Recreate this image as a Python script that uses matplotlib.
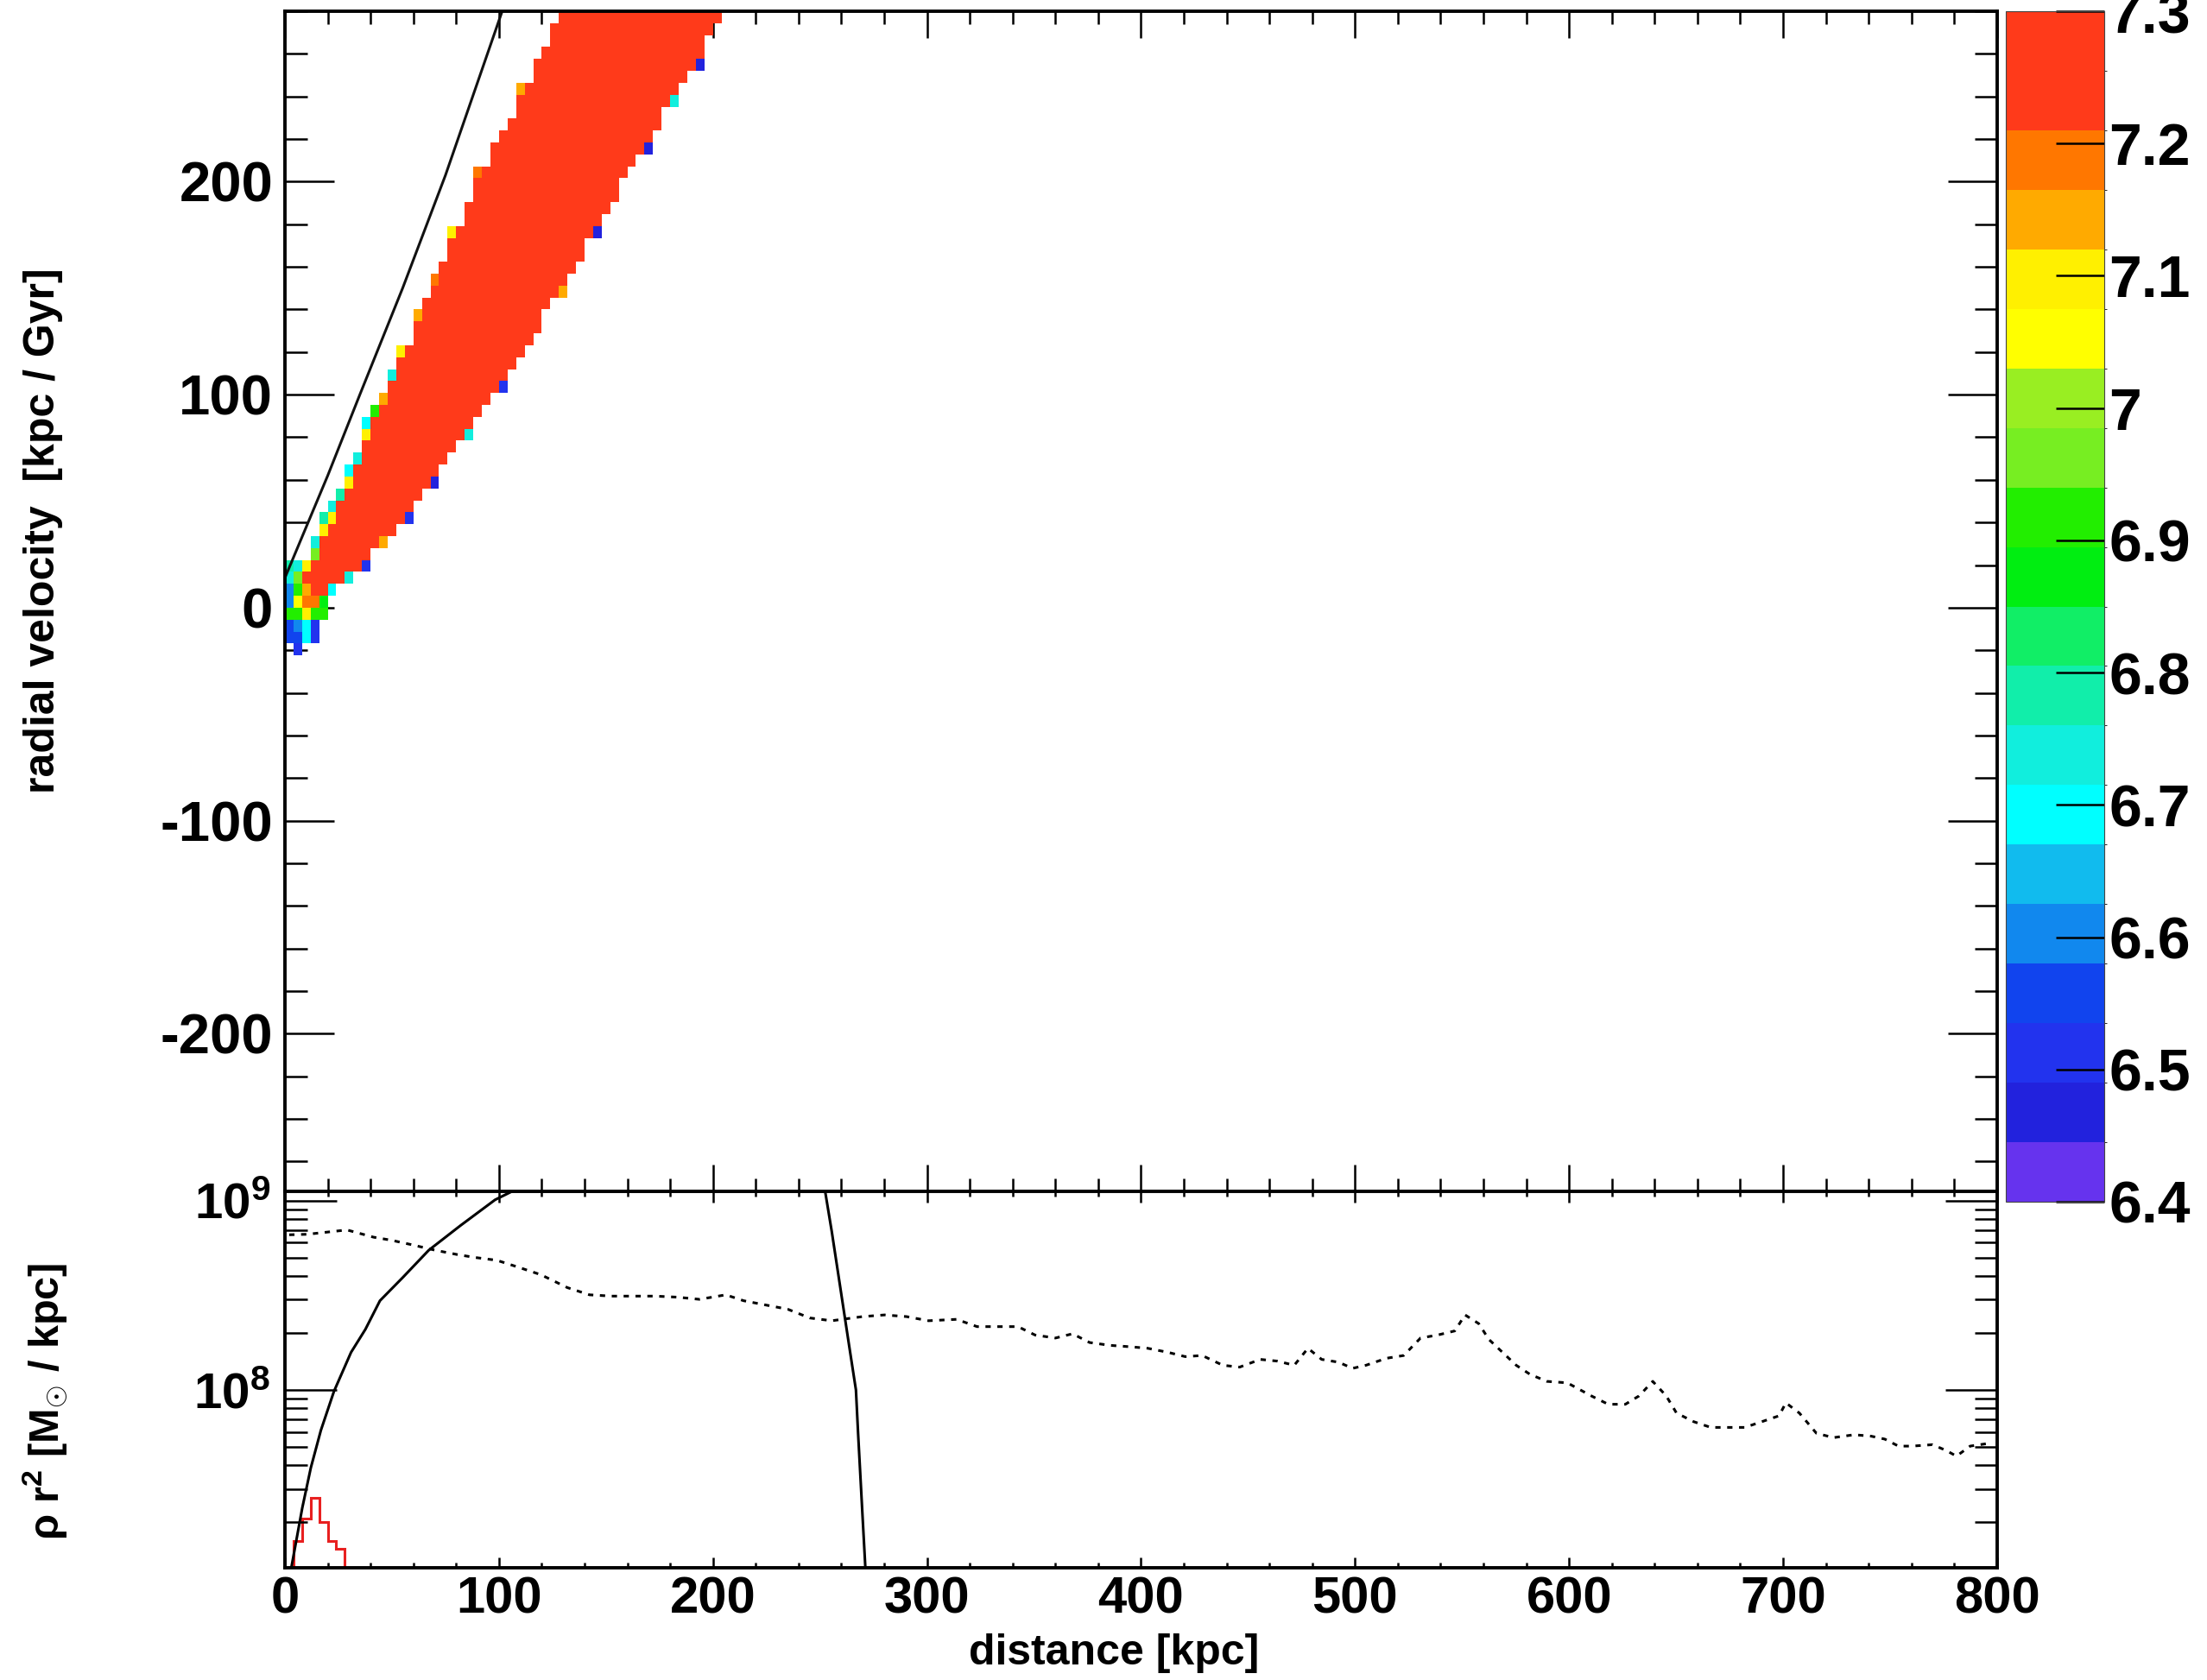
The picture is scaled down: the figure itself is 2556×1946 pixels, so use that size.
import numpy as np
import matplotlib
matplotlib.use("Agg")
import matplotlib.pyplot as plt
from matplotlib.colors import ListedColormap, BoundaryNorm
from matplotlib.cm import ScalarMappable
from matplotlib.ticker import MultipleLocator, FixedLocator, LogLocator, NullFormatter, FuncFormatter

plt.rcParams['font.family'] = ['Liberation Sans', 'DejaVu Sans']
plt.rcParams['font.weight'] = 'bold'
plt.rcParams['axes.unicode_minus'] = False
plt.rcParams['mathtext.fontset'] = 'custom'
plt.rcParams['mathtext.rm'] = 'Liberation Sans:bold'
plt.rcParams['mathtext.bf'] = 'Liberation Sans:bold'
plt.rcParams['mathtext.it'] = 'Liberation Sans:bold'

# ---------------- phase-space histogram: log10(mass) per (r, v_r) cell ----------------
x_edges = np.arange(0, 804, 4)            # kpc
v_edges = np.linspace(-280, 280, 101)     # kpc / Gyr
bulk_level = 7.8                          # dense cells, above palette top

band_x = list(range(14, 203, 4))
band_lo = [6.0, 7.7, 9.3, 11.0, 14.4, 17.8, 21.2, 25.8, 30.8, 35.8, 40.9, 45.9,
           51.0, 56.0, 61.0, 66.3, 71.6, 76.9, 82.2, 87.4, 92.7, 98.0, 104.2, 111.0,
           117.8, 124.5, 131.3, 138.1, 144.8, 151.6, 158.4, 165.2, 171.9, 178.7, 185.5, 192.2,
           199.0, 205.8, 212.6, 219.4, 226.2, 233.0, 239.8, 246.6, 253.4, 260.2, 267.0, 273.8]
band_hi = [23.3, 31.6, 40.0, 48.4, 56.8, 66.2, 76.6, 87.0, 97.4, 107.0, 116.3, 125.6,
           134.9, 144.2, 153.5, 162.8, 172.1, 181.4, 190.7, 200.0, 208.0, 216.0, 224.0, 232.0,
           240.0, 248.0, 256.0, 264.0, 272.0, 280.0] + [280.0] * 18
nan = np.nan
edge_above = [6.95, 7.1, 7.1, 6.8, 7.1, 6.75, 7.1, 6.9, 7.15, 6.75, 7.1, nan,
              7.15, nan, 7.2, nan, 7.1, nan, nan, 7.2, nan, nan, nan, nan,
              7.15, nan, nan, nan, nan] + [nan] * 19
edge_above2 = [6.75, 6.8, 6.72, nan, 6.7, nan, 6.7] + [nan] * 41
edge_below = [6.85, 6.75, 6.7, nan, 6.75, nan, 6.5, nan, 7.15, nan, nan, 6.5,
              nan, nan, 6.45, nan, nan, nan, 6.75, nan, nan, nan, 6.5, nan,
              nan, nan, nan, nan, nan, 7.15, nan, nan, nan, 6.45, nan, nan,
              nan, nan, nan, 6.45, nan, nan, 6.75, nan, nan, 6.45, nan, nan]
# cells around the origin: (r, v_r, log10 mass)
core_cells = [(2, -14.0, 6.55), (2, -8.4, 6.55), (2, -2.8, 6.9), (2, 2.8, 6.6),
              (2, 8.4, 6.62), (2, 14.0, 6.75), (2, 19.6, 6.8),
              (6, -19.6, 6.5), (6, -14.0, 6.55), (6, -8.4, 6.6), (6, -2.8, 6.9),
              (6, 2.8, 7.05), (6, 8.4, 6.9), (6, 14.0, 6.95), (6, 19.6, 6.75),
              (10, -14.0, 6.7), (10, -8.4, 6.7), (10, -2.8, 7.1), (10, 2.8, 7.2),
              (10, 8.4, 7.15), (10, 14.0, 7.5), (10, 19.6, 7.1),
              (14, -14.0, 6.5), (14, -8.4, 6.5), (14, -2.8, 6.9), (14, 2.8, 7.2),
              (18, -2.8, 6.9), (18, 2.8, 6.85)]

# escape-velocity style reference curve
curve_r = [0, 10, 20, 35, 55, 75, 101.5]
curve_v = [14, 38, 62, 100, 150, 203, 280]

# ---------------- radial profiles rho r^2 ----------------
model_r = [2, 8.1, 12.1, 16.8, 22.9, 30.9, 37.6, 44.4, 55.1, 67.2, 82.0, 98.2, 106.2,
           130, 170, 210, 245, 252.4, 255.5, 259.6, 263.7, 266.8, 267.8, 269.9, 271.5]
model_val = [1.0e7, 2.38e7, 3.88e7, 6.12e7, 9.82e7, 1.58e8, 2.09e8, 2.96e8, 3.93e8,
             5.47e8, 7.38e8, 1.01e9, 1.12e9, 1.5e9, 1.8e9, 1.8e9, 1.5e9, 1.13e9,
             6.87e8, 3.41e8, 1.69e8, 1.0e8, 5.92e7, 2.14e7, 1.0e7]

sim_r = [2, 10.5, 29, 41.4, 49.6, 58.9, 70.2, 80.5, 88.7, 99, 109.3, 119.6, 132, 142.3,
         152.6, 162.9, 173.1, 183.4, 193.7, 206, 214.3, 224.6, 234.9, 245.2, 255.5, 269.9,
         280.2, 290.4, 300.7, 313.8, 323.4, 332.9, 342.5, 350.5, 360, 368, 376, 385.5,
         395.1, 403.1, 412.6, 420.6, 428.6, 438.2, 446.1, 455.7, 463.7, 471.6, 478, 484.4,
         492.4, 498.8, 505.1, 514.7, 522.7, 530.6, 538.6, 546.6, 551.4, 557.8, 562.5, 568.9,
         575.3, 581.7, 589.6, 599.2, 610.4, 618.3, 626.3, 632.7, 639.1, 645.4, 650.2, 658.2,
         666.2, 674.1, 682.1, 690.1, 698.1, 701.3, 707.6, 715.6, 723.6, 733.2, 741.1, 747.5,
         753.9, 760.3, 769.8, 776.2, 781, 787.4, 795]
sim_val_e8 = [6.6, 6.64, 7.0, 6.41, 6.18, 5.86, 5.47, 5.19, 5.01, 4.84, 4.44, 4.06, 3.47, 3.18,
              3.13, 3.13, 3.13, 3.09, 3.01, 3.18, 2.96, 2.81, 2.67, 2.40, 2.32, 2.44,
              2.49, 2.44, 2.32, 2.36, 2.16, 2.16, 2.16, 1.95, 1.88, 1.98, 1.78, 1.72,
              1.69, 1.66, 1.58, 1.50, 1.52, 1.35, 1.32, 1.45, 1.42, 1.35, 1.66, 1.45,
              1.40, 1.30, 1.35, 1.47, 1.52, 1.88, 1.95, 2.05, 2.49, 2.24, 1.85, 1.58,
              1.35, 1.21, 1.11, 1.09, 0.93, 0.84, 0.84, 0.93, 1.11, 0.93, 0.755, 0.68,
              0.634, 0.634, 0.634, 0.68, 0.73, 0.855, 0.755, 0.59, 0.56, 0.58, 0.57, 0.55,
              0.505, 0.505, 0.514, 0.479, 0.447, 0.505, 0.52]

stars_bin_left = [4, 8, 12, 16, 20, 24]
stars_val = [1.6e7, 2.1e7, 2.7e7, 2.0e7, 1.6e7, 1.45e7]

vel_lim = (-274, 280)
prof_lim = (1.15e7, 1.12e9)

palette = ['#6633ee', '#2222dd', '#2233ee', '#1144ee', '#1188ee', '#11bbee', '#00ffff',
           '#11eedd', '#11eeaa', '#11ee66', '#00ee11', '#22ee00', '#77ee22', '#99ee22',
           '#ffff00', '#fff000', '#ffaa00', '#ff7700', '#ff3a1a', '#ff3a1a']
levels = np.linspace(6.4, 7.3, 21)

# ---- build the 2D histogram ----
grid = np.full((len(v_edges) - 1, len(x_edges) - 1), np.nan)
v_mid = 0.5 * (v_edges[:-1] + v_edges[1:])
for x, lo, hi, a1, a2, b1 in zip(band_x, band_lo, band_hi, edge_above, edge_above2, edge_below):
    col = int(x // 4)
    rows = np.nonzero((v_mid >= lo) & (v_mid <= hi))[0]
    grid[rows, col] = bulk_level
    top, bot = rows.max(), rows.min()
    if not np.isnan(a1) and top + 1 < len(v_mid):
        grid[top + 1, col] = a1
    if not np.isnan(a2) and top + 2 < len(v_mid):
        grid[top + 2, col] = a2
    if not np.isnan(b1) and bot - 1 >= 0:
        grid[bot - 1, col] = b1
for x, v, val in core_cells:
    grid[np.searchsorted(v_edges, v) - 1, int(x // 4)] = val

cmap = ListedColormap(palette)
cmap.set_over(palette[-1])
norm = BoundaryNorm(levels, cmap.N)

fig = plt.figure(figsize=(25.56, 19.46), dpi=100)
ax1 = fig.add_axes([0.1291, 0.2909, 0.7758, 0.7024])
ax2 = fig.add_axes([0.1291, 0.0668, 0.7758, 0.2241])
cax = fig.add_axes([0.9088, 0.2847, 0.0446, 0.7086])

ax1.set_axisbelow(True)
ax1.pcolormesh(x_edges, v_edges, np.ma.masked_invalid(grid), cmap=cmap, norm=norm,
               shading='flat', antialiased=False, edgecolors='none')
ax1.plot(curve_r, curve_v, color='#111111', lw=2.2)
ax1.set_xlim(0, 800)
ax1.set_ylim(*vel_lim)

# ---- lower panel ----
model = np.minimum(np.array(model_val), prof_lim[1])
ax2.plot(model_r, model, color='black', lw=2.2)
ax2.plot(sim_r, np.array(sim_val_e8) * 1e8, color='black', lw=2.2, ls=(0, (2, 2.5)))
stars = np.zeros(len(x_edges) - 1)
for left, val in zip(stars_bin_left, stars_val):
    stars[int(left // 4)] = val
ax2.stairs(np.clip(stars, prof_lim[0], None), x_edges, color='#e82020', lw=2.2, baseline=None)
ax2.set_yscale('log')
ax2.set_xlim(0, 800)
ax2.set_ylim(*prof_lim)

# ---- axes styling ----
for ax in (ax1, ax2):
    for s in ax.spines.values():
        s.set_linewidth(2.8)
    ax.xaxis.set_major_locator(MultipleLocator(100))
    ax.xaxis.set_minor_locator(MultipleLocator(20))

ax1.yaxis.set_major_locator(MultipleLocator(100))
ax1.yaxis.set_minor_locator(MultipleLocator(20))
ax1.tick_params(axis='y', which='major', direction='in', left=True, right=True,
                length=41, width=1.8, labelsize=47, pad=10)
ax1.tick_params(axis='y', which='minor', direction='in', left=True, right=True,
                length=19, width=1.8)
ax1.tick_params(axis='x', which='major', direction='in', top=True, bottom=True,
                length=22, width=1.8, labelbottom=False)
ax1.tick_params(axis='x', which='minor', direction='in', top=True, bottom=True,
                length=11, width=1.8)

ax2.yaxis.set_major_locator(FixedLocator([1e8, 1e9]))
ax2.yaxis.set_minor_locator(LogLocator(base=10, subs=np.arange(2, 10)))
ax2.yaxis.set_minor_formatter(NullFormatter())
ax2.yaxis.set_major_formatter(FuncFormatter(lambda v, _: r'$10^{%d}$' % round(np.log10(v))))
ax2.tick_params(axis='y', which='major', direction='in', left=True, right=True,
                length=43, width=1.8, labelsize=42, pad=12)
ax2.tick_params(axis='y', which='minor', direction='in', left=True, right=True,
                length=19, width=1.8)
ax2.tick_params(axis='x', which='major', direction='in', top=True, bottom=True,
                length=9, width=1.8, labelsize=43, pad=7)
ax2.tick_params(axis='x', which='minor', direction='in', top=True, bottom=True,
                length=4.5, width=1.8)

# ---- palette bar ----
sm = ScalarMappable(norm=norm, cmap=cmap)
cbar = fig.colorbar(sm, cax=cax, ticks=np.round(np.arange(6.4, 7.31, 0.1), 1))
cbar.ax.yaxis.set_major_formatter(FuncFormatter(lambda v, _: '%g' % round(v, 1)))
cbar.outline.set_linewidth(0.8)
cbar.outline.set_edgecolor('#444444')
cax.tick_params(direction='in', length=40, width=1.8, labelsize=49, pad=4, right=True, left=False)

fig.text(0.0196, 0.684, 'radial velocity  [kpc / Gyr]', rotation=90, ha='center', va='center',
         fontsize=36, fontweight='bold')
fig.text(0.0207, 0.166, r'$\rho$ r$^{2}$ [M$_{\odot}$ / kpc]', rotation=90, ha='center',
         va='center', fontsize=35, fontweight='bold')
fig.text(0.5047, 0.016, 'distance [kpc]', ha='center', va='center', fontsize=36,
         fontweight='bold')

fig.savefig('out.png', dpi=100)
